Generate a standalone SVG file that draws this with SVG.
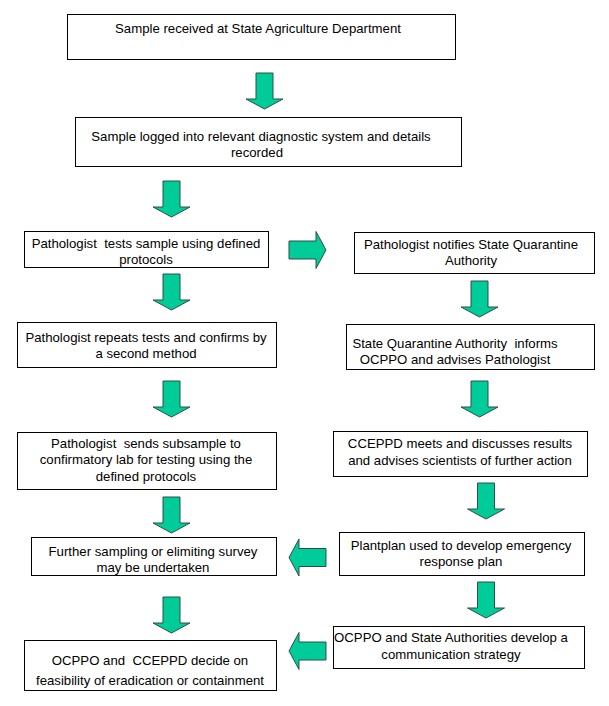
<svg xmlns="http://www.w3.org/2000/svg" xmlns:xlink="http://www.w3.org/1999/xlink" width="609" height="706" viewBox="0 0 609 706">
<style>
.box{fill:#fff;stroke:#000;stroke-width:1}
text{font-family:"Liberation Sans",Arial,sans-serif;font-size:13.2px;fill:#000;text-anchor:middle}
.arr{fill:#00CC99;stroke:#2f4f45;stroke-width:1;stroke-linejoin:miter}
</style>
<defs>
<path id="down" class="arr" d="M-8.5,0 H8.5 V26 H18.5 L0,36 L-18.5,26 H-8.5 Z"/>
<path id="right" class="arr" d="M0,-9 H27 V-18.5 L37,0 L27,18.5 V9 H0 Z"/>
<path id="left" class="arr" d="M37,-9 H10 V-18.5 L0,0 L10,18.5 V9 H37 Z"/>
</defs>
<rect width="609" height="706" fill="#fff"/>
<g id="connectors">
<use xlink:href="#down" x="264.5" y="73"/>
<use xlink:href="#down" x="171.5" y="181"/>
<use xlink:href="#right" x="289" y="250"/>
<use xlink:href="#down" x="171.5" y="274"/>
<use xlink:href="#down" x="479.5" y="281"/>
<use xlink:href="#down" x="171.5" y="381"/>
<use xlink:href="#down" x="479.5" y="381"/>
<use xlink:href="#down" x="171.5" y="497"/>
<use xlink:href="#down" x="486" y="483"/>
<use xlink:href="#left" x="289" y="557.5"/>
<use xlink:href="#down" x="171.5" y="597"/>
<use xlink:href="#down" x="486" y="582"/>
<use xlink:href="#left" x="289" y="651"/>
</g>
<g id="n1"><rect class="box" x="67.5" y="14.5" width="388" height="45"/><text x="258" y="33">Sample received at State Agriculture Department</text></g>
<g id="n2"><rect class="box" x="75.5" y="117.5" width="386" height="49"/><text x="261" y="141">Sample logged into relevant diagnostic system and details</text><text x="257" y="157">recorded</text></g>
<g id="n3"><rect class="box" x="24.5" y="231.5" width="244" height="36"/><text x="146" y="248" xml:space="preserve">Pathologist  tests sample using defined</text><text x="146" y="264">protocols</text></g>
<g id="n4"><rect class="box" x="354.5" y="232.5" width="240" height="41"/><text x="471" y="249">Pathologist notifies State Quarantine</text><text x="471" y="265">Authority</text></g>
<g id="n5"><rect class="box" x="17.5" y="322.5" width="259" height="45"/><text x="146" y="342">Pathologist repeats tests and confirms by</text><text x="146" y="358">a second method</text></g>
<g id="n6"><rect class="box" x="346.5" y="324.5" width="248" height="45"/><text x="455" y="348" xml:space="preserve">State Quarantine Authority  informs</text><text x="455" y="364">OCPPO and advises Pathologist</text></g>
<g id="n7"><rect class="box" x="17.5" y="432.5" width="259" height="57"/><text x="146" y="448" xml:space="preserve">Pathologist  sends subsample to</text><text x="146" y="464">confirmatory lab for testing using the</text><text x="146" y="481">defined protocols</text></g>
<g id="n8"><rect class="box" x="333.5" y="431.5" width="254" height="45"/><text x="460" y="448">CCEPPD meets and discusses results</text><text x="460" y="465">and advises scientists of further action</text></g>
<g id="n9"><rect class="box" x="31.5" y="537.5" width="245" height="38"/><text x="153" y="556">Further sampling or elimiting survey</text><text x="153" y="572">may be undertaken</text></g>
<g id="n10"><rect class="box" x="339.5" y="532.5" width="245" height="43"/><text x="461" y="550">Plantplan used to develop emergency</text><text x="461" y="566">response plan</text></g>
<g id="n11"><rect class="box" x="24.5" y="640.5" width="252" height="50"/><text x="150" y="665" xml:space="preserve">OCPPO and  CCEPPD decide on</text><text x="150" y="685">feasibility of eradication or containment</text></g>
<g id="n12"><rect class="box" x="333.5" y="626.5" width="251" height="42"/><text x="451" y="642">OCPPO and State Authorities develop a</text><text x="451" y="659">communication strategy</text></g>
</svg>
